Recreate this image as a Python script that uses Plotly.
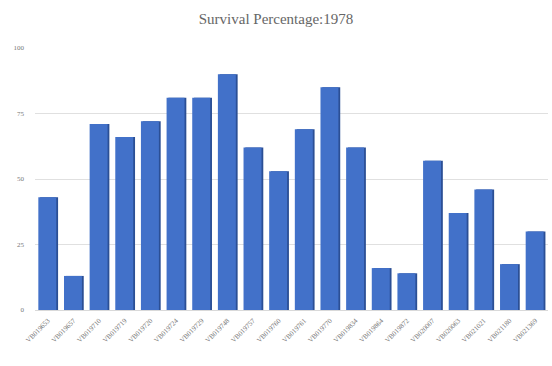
import plotly.graph_objects as go

# Survival percentage per line, 1978
lines = ["VB019653", "VB019657", "VB019710", "VB019719", "VB019720",
         "VB019724", "VB019729", "VB019748", "VB019757", "VB019760",
         "VB019761", "VB019770", "VB019834", "VB019864", "VB019872",
         "VB020007", "VB020063", "VB021021", "VB021180", "VB021369"]
survival = [43, 13, 71, 66, 72, 81, 81, 90, 62, 53,
            69, 85, 62, 16, 14, 57, 37, 46, 17.5, 30]
y_ticks = [0, 25, 50, 75, 100]

fig = go.Figure()
# darker side face behind each bar for a slight depth effect
fig.add_trace(go.Bar(x=lines, y=survival, width=0.7, offset=-0.3,
                     marker=dict(color="#2b4f95", line=dict(width=0)),
                     hoverinfo="skip", showlegend=False))
fig.add_trace(go.Bar(x=lines, y=survival, width=0.7, offset=-0.37,
                     marker=dict(color="#4271c9", line=dict(width=0)),
                     showlegend=False))

fig.update_layout(
    width=552, height=366,
    margin=dict(l=35, r=4, t=48, b=56),
    barmode="overlay",
    plot_bgcolor="white", paper_bgcolor="white",
    title=dict(text="Survival Percentage:1978", x=0.5, xanchor="center",
               y=0.95, yanchor="middle",
               font=dict(family="Liberation Serif, Times New Roman, serif",
                         size=15, color="#666666")),
    xaxis=dict(type="category", tickangle=-45, showgrid=False,
               tickfont=dict(family="Liberation Serif, serif", size=7, color="#777777"),
               showline=True, linecolor="#d9d9d9", linewidth=1, ticks="",
               ticklabelstandoff=3),
    yaxis=dict(range=[0, 100], tickvals=y_ticks, showgrid=True,
               gridcolor="#e0e0e0", gridwidth=1, zeroline=False,
               tickfont=dict(family="Liberation Serif, serif", size=7, color="#777777"),
               ticks="", showline=False, ticklabelstandoff=10),
)

fig.write_html("out.html")
